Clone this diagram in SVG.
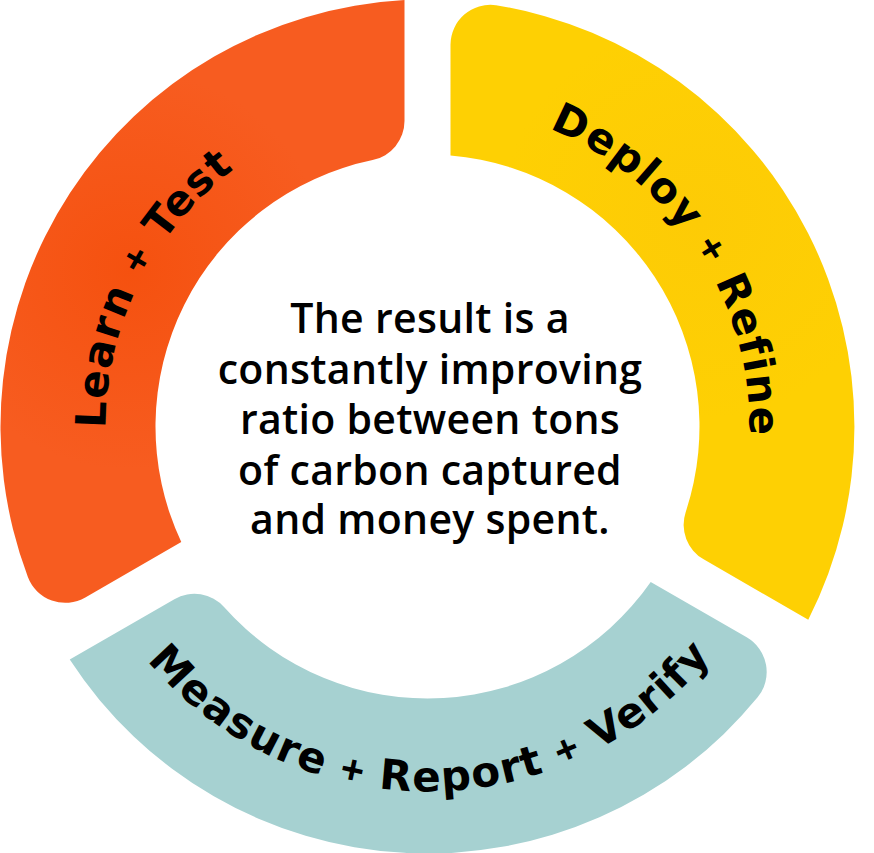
<svg xmlns="http://www.w3.org/2000/svg" xmlns:xlink="http://www.w3.org/1999/xlink" width="874" height="853" viewBox="0 0 874 853">
  <style>
    .label { font-family: "DejaVu Sans", "Liberation Sans", sans-serif; font-weight: bold; font-size: 42px; letter-spacing: 1.5px; fill: #000; }
    .plus { font-family: "Liberation Sans", sans-serif; font-weight: bold; font-size: 40px; }
    .center { font-family: "Open Sans", "Liberation Sans", sans-serif; font-weight: 600; font-size: 41px; letter-spacing: 0.3px; fill: #000; text-anchor: middle; }
  </style>
  <defs>
    <radialGradient id="gOrange" cx="130" cy="270" r="200" gradientUnits="userSpaceOnUse">
      <stop offset="0" stop-color="#F5510F"/>
      <stop offset="1" stop-color="#F75C20"/>
    </radialGradient>
    <radialGradient id="gYellow" cx="700" cy="220" r="200" gradientUnits="userSpaceOnUse">
      <stop offset="0" stop-color="#FDCB06"/>
      <stop offset="1" stop-color="#FED003"/>
    </radialGradient>
    <path id="pOrange" d="M193.93,648.15 A322,322 0 0 1 463.95,106.57"/>
    <path id="pYellow" d="M355.07,112.75 A322,322 0 0 1 684.66,620.29"/>
    <path id="pTeal" d="M75.78,524.04 A365,365 0 0 0 780.87,517.89"/>
  </defs>
  <rect width="874" height="853" fill="#FFFFFF"/>

  <g id="learn-test">
    <path d="M181.28,542.10 L85.32,597.5 A40,40 0 0 1 27.875,576.96 A427,427 0 0 1 404.5,0.12 L404.5,120.93 A40,40 0 0 1 372.58,160.11 A272,272 0 0 0 181.28,542.10 Z" fill="url(#gOrange)"/>
    <text class="label"><textPath xlink:href="#pOrange" href="#pOrange" startOffset="50%" text-anchor="middle">Learn <tspan class="plus">+</tspan> Test</textPath></text>
  </g>

  <g id="deploy-refine">
    <path d="M450.5,155.47 L450.5,44.66 A40,40 0 0 1 496.01,5.19 A427,427 0 0 1 808.26,619.77 L703.63,559.37 A40,40 0 0 1 685.66,512.13 A272,272 0 0 0 450.5,155.47 Z" fill="url(#gYellow)"/>
    <text class="label"><textPath xlink:href="#pYellow" href="#pYellow" startOffset="50%" text-anchor="middle">Deploy <tspan class="plus">+</tspan> Refine</textPath></text>
  </g>

  <g id="measure-report-verify">
    <path d="M650.72,581.93 L746.68,637.34 A40,40 0 0 1 757.61,697.35 A427,427 0 0 1 69.74,659.61 L174.37,599.2 A40,40 0 0 1 224.26,607.26 A272,272 0 0 0 650.72,581.93 Z" fill="#A6D1D1"/>
    <text class="label"><textPath xlink:href="#pTeal" href="#pTeal" startOffset="50%" text-anchor="middle">Measure <tspan class="plus">+</tspan> Report <tspan class="plus">+</tspan> Verify</textPath></text>
  </g>

  <g id="center-text">
    <text class="center" x="430" y="333">The result is a</text>
    <text class="center" x="430" y="384">constantly improving</text>
    <text class="center" x="430" y="434">ratio between tons</text>
    <text class="center" x="430" y="485">of carbon captured</text>
    <text class="center" x="430" y="534">and money spent.</text>
  </g>
</svg>
